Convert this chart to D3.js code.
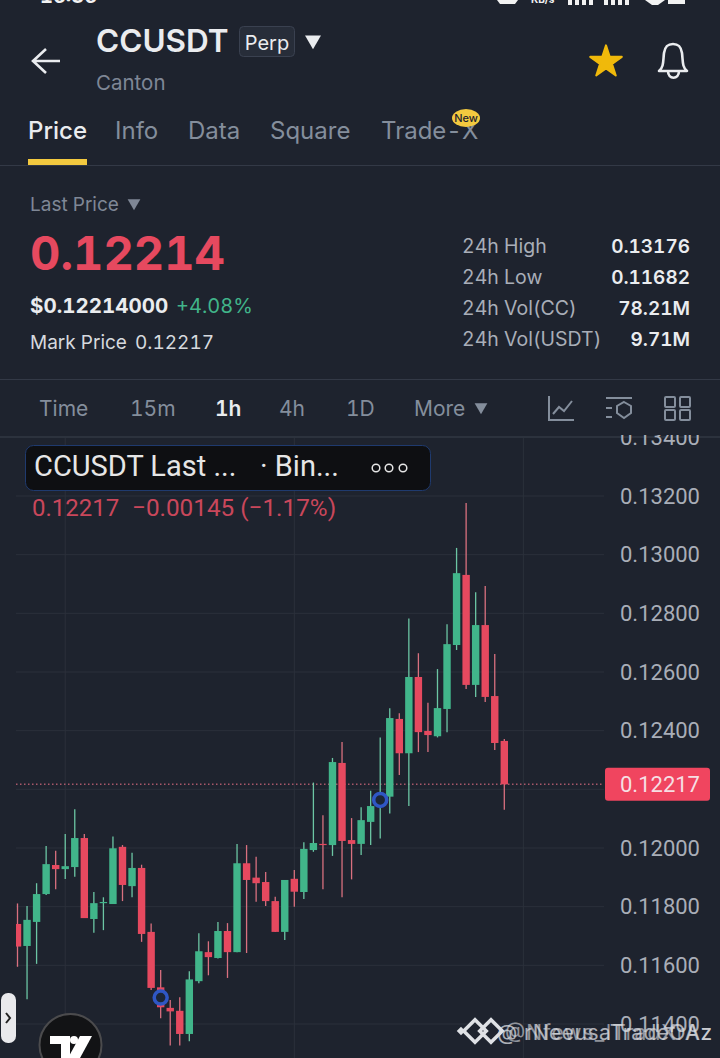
<!DOCTYPE html>
<html>
<head>
<meta charset="utf-8">
<title>CCUSDT</title>
<script src="https://cdn.jsdelivr.net/npm/d3@7/dist/d3.min.js"></script>
<style>
html,body{margin:0;padding:0;background:#1e232e;overflow:hidden}
svg{display:block}
text{font-variant-numeric:tabular-nums}
</style>
</head>
<body>
<svg id="svg" width="720" height="1058"></svg>
<script>
// candles, oldest first
var opens=[0.11741,0.11666,0.11748,0.11843,0.11942,0.11928,0.11935,0.12034,0.11758,0.11812,0.11809,0.12004,0.11870,0.11932,0.11714,0.11525,0.11455,0.11445,0.11366,0.11546,0.11645,0.11625,0.11717,0.11645,0.11948,0.11899,0.11884,0.11819,0.11714,0.11895,0.11850,0.11993,0.12014,0.12010,0.12290,0.12027,0.12014,0.12089,0.12143,0.12175,0.12440,0.12323,0.12583,0.12399,0.12381,0.12474,0.12692,0.12931,0.12556,0.12760,0.12518,0.12365];
var highs=[0.11811,0.11802,0.11880,0.12007,0.11991,0.12048,0.12132,0.12048,0.11850,0.11832,0.12039,0.12010,0.11984,0.11943,0.11743,0.11584,0.11482,0.11491,0.11580,0.11709,0.11682,0.11748,0.11744,0.12014,0.12010,0.11970,0.11918,0.11834,0.11891,0.11925,0.12020,0.12223,0.12112,0.12307,0.12361,0.12102,0.12139,0.12195,0.12377,0.12476,0.12459,0.12782,0.12664,0.12495,0.12610,0.12763,0.13023,0.13176,0.12872,0.12893,0.12661,0.12372];
var lows=[0.11595,0.11484,0.11605,0.11840,0.11859,0.11894,0.11902,0.11761,0.11711,0.11720,0.11809,0.11819,0.11832,0.11680,0.11516,0.11420,0.11327,0.11327,0.11341,0.11539,0.11566,0.11623,0.11557,0.11645,0.11642,0.11817,0.11802,0.11714,0.11686,0.11800,0.11826,0.11987,0.11859,0.11973,0.11832,0.11893,0.11976,0.12010,0.12032,0.12118,0.12249,0.12143,0.12327,0.12327,0.12377,0.12395,0.12675,0.12542,0.12515,0.12498,0.12334,0.12130];
var closes=[0.11664,0.11755,0.11843,0.11945,0.11928,0.11938,0.12034,0.11761,0.11812,0.11816,0.11999,0.11874,0.11932,0.11707,0.11523,0.11457,0.11443,0.11366,0.11552,0.11648,0.11628,0.11717,0.11645,0.11948,0.11891,0.11880,0.11819,0.11714,0.11891,0.11851,0.11997,0.12017,0.12010,0.12293,0.12024,0.12014,0.12095,0.12143,0.12181,0.12443,0.12323,0.12583,0.12395,0.12385,0.12477,0.12695,0.12937,0.12556,0.12760,0.12515,0.12358,0.12217];
var priceTicks=[0.114,0.116,0.118,0.120,0.124,0.126,0.128,0.130,0.132,0.134];
var gridPrices=[0.114,0.116,0.118,0.120,0.122,0.124,0.126,0.128,0.130,0.132];
var dayLines=[5,29,53];
var markerIndex=[15,38];
var markerPrice=[0.11490,0.12164];
var lastPrice=0.12217;
var tabs=["Price","Info","Data","Square","Trade-X"];
var tabX=[28,115,188,270,381];
var frames=["Time","15m","1h","4h","1D","More"];
var frameX=[39,130,215,279,346,414];
var statNames=["24h High","24h Low","24h Vol(CC)","24h Vol(USDT)"];
var statValues=["0.13176","0.11682","78.21M","9.71M"];

var UI="Inter, 'Noto Sans', sans-serif";
var CH="Roboto, sans-serif";
var RED="#e6495f",GREEN="#41b58a",GRID="#2b303b";

var svg=d3.select("#svg");
svg.append("rect").attr("width",720).attr("height",1058).attr("fill","#1e232e");

function label(x,y,str,size,color,weight,font,anchor){
	return svg.append("text")
		.attr("x",x).attr("y",y)
		.attr("font-family",font||UI)
		.attr("font-size",size)
		.attr("font-weight",weight||400)
		.attr("text-anchor",anchor||"start")
		.attr("fill",color)
		.text(str);
}
function tri(x,y,size,color){
	svg.append("path")
		.attr("d",d3.symbol().type(d3.symbolTriangle).size(size)())
		.attr("transform","translate("+x+","+y+") rotate(180)")
		.attr("fill",color);
}

// status bar, only its lower edge is on the picture
label(40,3,"16:36",20,"#f2f2f2",700);
label(531,3,"KB/s",10,"#f2f2f2",700);
svg.append("path").attr("d","M497 0h21l-3 4h-15z").attr("fill","#f2f2f2");
d3.range(8).forEach(function(i){
	svg.append("rect").attr("x",i<4?568+i*7:604+(i-4)*7).attr("y",0).attr("width",4).attr("height",5).attr("fill","#f2f2f2");
});
svg.append("path").attr("d","M645 0h20l-7 5h-6z").attr("fill","#f2f2f2");
svg.append("rect").attr("x",668).attr("y",0).attr("width",17).attr("height",4).attr("fill","#f2f2f2");

// header
svg.append("path").attr("d","M60 61H34M46 49L33 61L46 73").attr("fill","none").attr("stroke","#eaecef").attr("stroke-width",2.6);
label(96,52,"CCUSDT",31.5,"#eaecef",600);
svg.append("rect").attr("x",239.5).attr("y",26.5).attr("width",55).attr("height",30).attr("rx",4).attr("fill","#272d39").attr("stroke","#3a4150");
label(267,50,"Perp",20,"#eaecef",400,UI,"middle");
tri(313,40,110,"#eaecef");
label(96,90,"Canton",20.5,"#7f8796");
svg.append("path")
	.attr("d",d3.symbol().type(d3.symbolStar).size(310)())
	.attr("transform","translate(606,62)")
	.attr("fill","#f0b90b").attr("stroke","#f0b90b").attr("stroke-width",2).attr("stroke-linejoin","round");
svg.append("path")
	.attr("d","M659 71c5-4 4-10 5-18c1-7 4-9 9-9s8 2 9 9c1 8 0 14 5 18zM668 71c0 9 11 9 11 0")
	.attr("fill","none").attr("stroke","#eaecef").attr("stroke-width",2.6).attr("stroke-linejoin","round");

tabs.forEach(function(t,i){
	label(tabX[i],139,t,24,i==0?"#eaecef":"#848e9c",i==0?500:400);
});
svg.append("ellipse").attr("cx",466).attr("cy",118).attr("rx",14).attr("ry",9).attr("fill","#f3c93f");
label(466,122,"New",11,"#1e232e",500,UI,"middle");
svg.append("rect").attr("x",28).attr("y",159).attr("width",59).attr("height",6).attr("fill","#f3c93f");
svg.append("rect").attr("x",0).attr("y",165).attr("width",720).attr("height",1).attr("fill","#333946");

// price block
label(30,211,"Last Price",19,"#7f8796");
tri(134,203,70,"#7f8796");
label(30,270,"0.12214",47,RED,700);
label(30,313,"$0.12214000",20.5,"#eaecef",700);
label(176,313,"+4.08%",20,GREEN,400);
label(30,349,"Mark Price",19,"#d6d9de");
label(135,349,"0.12217",19,"#d6d9de");
statNames.forEach(function(s,i){
	var yy=253+i*31;
	label(462,yy,s,19.5,"#a9aeb8");
	label(690,yy,statValues[i],19,"#eaecef",600,UI,"end");
});
svg.append("rect").attr("x",0).attr("y",379).attr("width",720).attr("height",1).attr("fill","#333946");

// time frame row
frames.forEach(function(t,i){
	label(frameX[i],416,t,21,i==2?"#eaecef":"#848e9c",i==2?600:400);
});
tri(481,407,70,"#848e9c");
svg.append("path").attr("d","M549 396V420H574M553 414l6-7l5 4l8-10").attr("fill","none").attr("stroke","#848e9c").attr("stroke-width",2);
svg.append("path").attr("d","M606 398H632M606 408H612M606 417H612").attr("fill","none").attr("stroke","#848e9c").attr("stroke-width",2);
svg.append("path").attr("d","M624 402l7 4v7l-7 5l-7-5v-7z").attr("fill","none").attr("stroke","#848e9c").attr("stroke-width",2);
[[665,397],[680,397],[665,410],[680,410]].forEach(function(p){
	svg.append("rect").attr("x",p[0]).attr("y",p[1]).attr("width",10).attr("height",10).attr("rx",1).attr("fill","none").attr("stroke","#848e9c").attr("stroke-width",2);
});

// chart
var x=d3.scaleLinear().domain([0,51]).range([17.5,504.3]);
var y=d3.scaleLinear().domain([0.114,0.132]).range([1024,496]);
var bodyW=7.4;

var defs=svg.append("defs");
defs.append("clipPath").attr("id","plot").append("rect").attr("x",16).attr("y",438).attr("width",588).attr("height",620);
defs.append("clipPath").attr("id","axisclip").append("rect").attr("x",604).attr("y",435).attr("width",116).attr("height",623);

var plot=svg.append("g").attr("clip-path","url(#plot)");
plot.selectAll(".hgrid").data(gridPrices).enter().append("line")
	.attr("class","hgrid")
	.attr("x1",16).attr("x2",604)
	.attr("y1",function(d){return y(d);}).attr("y2",function(d){return y(d);})
	.attr("stroke",GRID);
plot.selectAll(".vgrid").data(dayLines).enter().append("line")
	.attr("class","vgrid")
	.attr("x1",function(d){return x(d);}).attr("x2",function(d){return x(d);})
	.attr("y1",438).attr("y2",1058)
	.attr("stroke",GRID);

plot.append("line")
	.attr("x1",16).attr("x2",604)
	.attr("y1",y(lastPrice)).attr("y2",y(lastPrice))
	.attr("stroke","#a8586a").attr("stroke-width",1.5).attr("stroke-dasharray","1.5 2.5");

var candle=plot.selectAll(".candle").data(opens).enter().append("g").attr("class","candle");
candle.append("line")
	.attr("x1",function(d,i){return x(i);}).attr("x2",function(d,i){return x(i);})
	.attr("y1",function(d,i){return y(highs[i]);})
	.attr("y2",function(d,i){return y(lows[i]);})
	.attr("stroke-width",1.3)
	.attr("stroke",function(d,i){return closes[i]>=d?"#6cc6a4":"#d9707f";});
candle.append("rect")
	.attr("x",function(d,i){return x(i)-bodyW/2;})
	.attr("width",bodyW)
	.attr("y",function(d,i){return y(Math.max(d,closes[i]));})
	.attr("height",function(d,i){return Math.max(1.2,Math.abs(y(d)-y(closes[i])));})
	.attr("fill",function(d,i){return closes[i]>=d?GREEN:RED;});

plot.selectAll(".mark").data(markerIndex).enter().append("circle")
	.attr("class","mark")
	.attr("cx",function(d){return x(d);})
	.attr("cy",function(d,i){return y(markerPrice[i]);})
	.attr("r",6.5)
	.attr("fill","#1c2636").attr("stroke","#2f57c4").attr("stroke-width",3.5);

// header rule over the top of the plot
svg.append("rect").attr("x",0).attr("y",436).attr("width",720).attr("height",2).attr("fill","#2c323d");

// price axis
var axis=d3.axisRight(y)
	.tickValues(priceTicks)
	.tickSize(0)
	.tickPadding(0)
	.tickFormat(d3.format(".5f"));
var ag=svg.append("g").attr("clip-path","url(#axisclip)").append("g").attr("transform","translate(700,0)").call(axis);
ag.select(".domain").remove();
ag.selectAll("text")
	.attr("x",0)
	.attr("text-anchor","end")
	.attr("font-family",CH)
	.attr("font-size",22)
	.attr("fill","#a9aeb8");

svg.append("rect").attr("x",605).attr("y",y(lastPrice)-16.5).attr("width",105).attr("height",33).attr("rx",3).attr("fill","#f0455f");
label(660,y(lastPrice)+8,d3.format(".5f")(lastPrice),22,"#f6dfe3",400,CH,"middle");

// legend
svg.append("rect").attr("x",25.5).attr("y",445.5).attr("width",405).attr("height",45).attr("rx",8).attr("fill","#0e0f12").attr("stroke","#1f3a6e");
label(34,476,"CCUSDT Last ...",29,"#e6e6e6",400,CH);
label(260,476,"· Bin...",29,"#e6e6e6",400,CH);
[376,389,403].forEach(function(cx){
	svg.append("circle").attr("cx",cx).attr("cy",468).attr("r",3.8).attr("fill","none").attr("stroke","#e6e6e6").attr("stroke-width",1.5);
});
label(32,516,"0.12217",24,"#c9475b",400,CH);
label(132,516,"\u22120.00145 (\u22121.17%)",24.3,"#c9475b",400,CH);

// side handle and logo
svg.append("rect").attr("x",1).attr("y",993).attr("width",15).attr("height",50).attr("rx",7).attr("fill","#e9e9ec");
svg.append("path").attr("d","M6 1013l4 5l-4 5").attr("fill","none").attr("stroke","#222").attr("stroke-width",2);
svg.append("circle").attr("cx",70.5).attr("cy",1045).attr("r",31).attr("fill","#121315").attr("stroke","#4b4b4d").attr("stroke-width",2);
svg.append("path").attr("d","M50 1036H70V1058H61V1044H50z").attr("fill","#fff");
svg.append("circle").attr("cx",74).attr("cy",1040).attr("r",4).attr("fill","#fff");
svg.append("path").attr("d","M80 1036H92L80 1058H68z").attr("fill","#fff");

// watermark, two copies laid over each other
[[461,1031,3,0],[475,1031,8,1],[491,1031,8,1]].forEach(function(p){
	svg.append("rect")
		.attr("x",-p[2]).attr("y",-p[2])
		.attr("width",p[2]*2).attr("height",p[2]*2)
		.attr("transform","translate("+p[0]+","+p[1]+") rotate(45)")
		.attr("fill",p[3]?"none":"#dfe1e5").attr("stroke","#dfe1e5").attr("stroke-width",p[3]?3.5:0);
});
label(497,1040,"@ rNeeusaTradeOAz",21,"#dcdee2",400,UI).attr("opacity",0.75).attr("textLength",215);
label(505,1040,"@Nfews_lTradXrAz",21,"#dcdee2",400,UI).attr("opacity",0.6).attr("textLength",207);
</script>
</body>
</html>
